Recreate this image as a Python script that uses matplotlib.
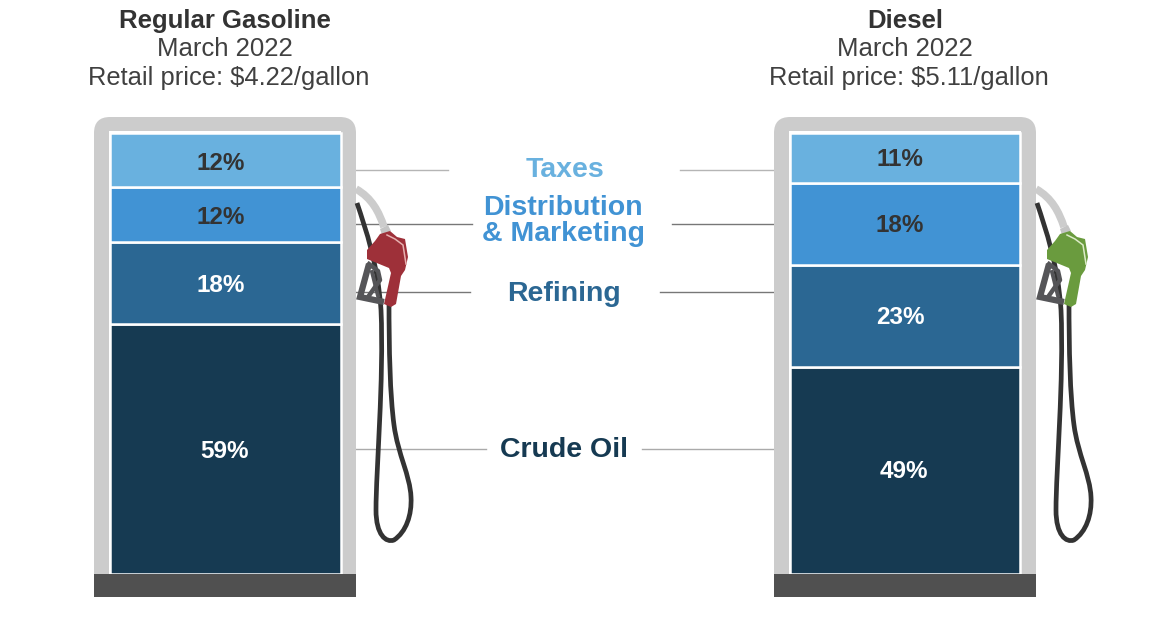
import matplotlib
matplotlib.use("Agg")
import matplotlib.pyplot as plt
from matplotlib.patches import PathPatch, Polygon, Rectangle
from matplotlib.path import Path

plt.rcParams['font.family'] = ['Liberation Sans', 'DejaVu Sans']

# top to bottom: taxes, distribution, refining, crude
components = ['Taxes', 'Distribution\n& Marketing', 'Refining', 'Crude Oil']
segment_colors = ['#69b1df', '#4193d4', '#2b6793', '#163a52']
gas_labels = ['12%', '12%', '18%', '59%']
diesel_labels = ['11%', '18%', '23%', '49%']
# drawn heights, crude is drawn a bit short of its label
gas_heights = [12, 12, 18, 55]
diesel_heights = [11, 18, 22.5, 45.5]

GREY = '#cccccc'
DARK = '#505050'
HOSE = '#333333'
PX_PER_UNIT = 4.55


def draw_shell(ax, x0, x1):
    # grey pump body with rounded top corners
    top, bottom, r = 117, 574, 16
    verts = [(x0, bottom), (x0, top + r), (x0, top), (x0 + r, top),
             (x1 - r, top), (x1, top), (x1, top + r), (x1, bottom), (x0, bottom)]
    codes = [Path.MOVETO, Path.LINETO, Path.CURVE3, Path.CURVE3,
             Path.LINETO, Path.CURVE3, Path.CURVE3, Path.LINETO, Path.CLOSEPOLY]
    ax.add_patch(PathPatch(Path(verts, codes), fc=GREY, ec='none', zorder=2))
    ax.add_patch(Rectangle((x0 + 15, 131), x1 - x0 - 30, 445, fc='white', ec='none', zorder=2.1))
    ax.add_patch(Rectangle((x0, 574), x1 - x0, 23, fc=DARK, ec='none', zorder=4))


def draw_stack(ax, x0, width, heights, labels, label_x, label_y):
    bottom = 574
    for h, col in zip(reversed(heights), reversed(segment_colors)):
        h_px = h * PX_PER_UNIT
        ax.bar(x0, -h_px, width=width, bottom=bottom, align='edge', color=col,
               edgecolor='white', linewidth=1.8, zorder=3)
        bottom -= h_px
    for i, lab in enumerate(labels):
        col = '#333333' if i < 2 else 'white'
        ax.text(label_x[i], label_y[i], lab, ha='center', va='center', fontsize=17.5,
                fontweight='bold', color=col, zorder=5)


def draw_nozzle(ax, dx, color, shine):
    def sh(pts):
        return [(x + dx, y) for x, y in pts]

    # grey hose into the nozzle
    grey_hose = Path(sh([(356, 189), (372, 198), (379, 212), (384, 227)]),
                     [Path.MOVETO, Path.CURVE4, Path.CURVE4, Path.CURVE4])
    ax.add_patch(PathPatch(grey_hose, fc='none', ec=GREY, lw=5.5, zorder=6, capstyle='butt'))

    # black hose loop
    loop = Path(sh([(357, 203), (366, 230), (378, 265), (381, 310),
                    (384, 380), (376, 470), (376, 510),
                    (376, 535), (386, 543), (394, 540),
                    (406, 532), (412, 515), (411, 497),
                    (410, 475), (398, 455), (394, 425),
                    (390, 395), (389, 350), (389, 300)]),
                [Path.MOVETO] + [Path.CURVE4] * 18)
    ax.add_patch(PathPatch(loop, fc='none', ec=HOSE, lw=3.4, zorder=6))

    # trigger guard
    ax.add_patch(Polygon(sh([(369, 264), (360, 297), (384, 302)]), closed=False, fc='none',
                         ec='#555558', lw=4.5, zorder=7, joinstyle='miter'))
    ax.plot(*zip(*sh([(369, 264), (378, 271), (380, 280), (368, 297)])), color='#555558', lw=3.2, zorder=7)
    ax.plot(*zip(*sh([(372, 272), (378, 296)])), color='#555558', lw=2.8, zorder=7)

    # nozzle body
    ax.add_patch(Polygon(sh([(380, 229), (388, 225), (391, 231), (382, 235)]), closed=True,
                         fc='#c4c4c4', ec='none', zorder=7))
    body = [(380, 234), (390, 231), (397, 237), (405, 239), (408, 257), (405, 270), (401, 276),
            (396, 304), (391, 307), (384, 304), (391, 273), (389, 268), (367, 259), (367, 250), (375, 241)]
    ax.add_patch(Polygon(sh(body), closed=True, fc=color, ec='none', zorder=8))
    ax.plot(*zip(*sh([(387, 235), (395, 239), (403, 245), (406, 264)])), color=shine, lw=1.1, zorder=9)


fig = plt.figure(figsize=(11.7, 6.28), dpi=100)
ax = fig.add_axes([0, 0, 1, 1])
ax.set_xlim(0, 1170)
ax.set_ylim(628, 0)
ax.axis('off')

# connector lines behind the pumps
line_y = [170, 224, 292, 449]
line_cols = ['#b5b5b5', '#777777', '#777777', '#aaaaaa']
left_ends = [448, 472, 470, 486]
right_starts = [680, 672, 660, 642]
for y, col, le, rs in zip(line_y, line_cols, left_ends, right_starts):
    ax.plot([356, le], [y, y], color=col, lw=1.0, zorder=1)
    ax.plot([rs, 774], [y, y], color=col, lw=1.0, zorder=1)

draw_shell(ax, 94, 356)
draw_shell(ax, 774, 1036)
draw_stack(ax, 110, 231, gas_heights, gas_labels, [221, 221, 221, 225], [163, 217, 285, 451])
draw_stack(ax, 790, 230, diesel_heights, diesel_labels, [900, 900, 900, 904], [160, 226, 317, 472])
draw_nozzle(ax, 0, '#9e3039', '#e6b0b0')
draw_nozzle(ax, 680, '#6a9b3e', '#dcebc8')

# middle labels
label_pos = [(565, 170), (563, 221), (564, 294), (564, 450)]
for name, col, (x, y) in zip(components, segment_colors, label_pos):
    ax.text(x, y, name, ha='center', va='center', fontsize=20.5, fontweight='bold', color=col,
            linespacing=1.0, zorder=5)

# headers
ax.text(225, 21, 'Regular Gasoline', ha='center', va='center', fontsize=18.5, fontweight='bold', color='#333333')
ax.text(225, 49, 'March 2022', ha='center', va='center', fontsize=18.5, color='#404040')
ax.text(229, 78, 'Retail price: $4.22/gallon', ha='center', va='center', fontsize=18.4, color='#404040')
ax.text(905, 21, 'Diesel', ha='center', va='center', fontsize=18.5, fontweight='bold', color='#333333')
ax.text(905, 49, 'March 2022', ha='center', va='center', fontsize=18.5, color='#404040')
ax.text(909, 78, 'Retail price: $5.11/gallon', ha='center', va='center', fontsize=18.4, color='#404040')

fig.savefig('out.png', dpi=100)
